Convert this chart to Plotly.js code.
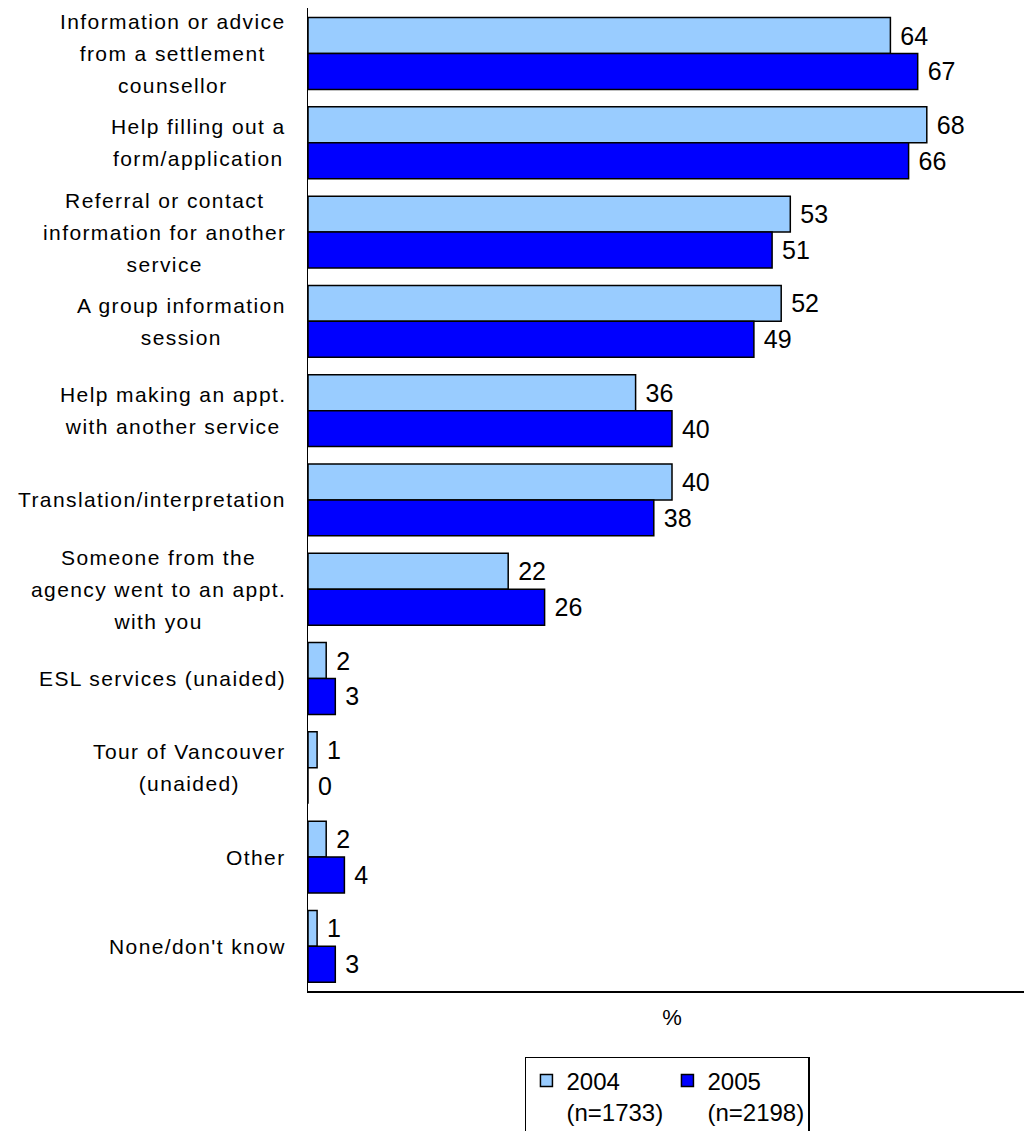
<!DOCTYPE html>
<html>
<head>
<meta charset="utf-8">
<script src="https://cdn.plot.ly/plotly-3.0.1.min.js"></script>
<style>
  html, body { margin: 0; padding: 0; overflow: hidden; background: #fff; }
  #chart { width: 1036px; height: 1131px; }
</style>
</head>
<body>
<div id="chart"></div>
<script>
const categories = [
  "Information or advice<br>from a settlement<br>counsellor",
  "Help filling out a<br>form/application",
  "Referral or contact<br>information for another<br>service",
  "A group information<br>session",
  "Help making an appt.<br>with another service",
  "Translation/interpretation",
  "Someone from the<br>agency went to an appt.<br>with you",
  "ESL services (unaided)",
  "Tour of Vancouver<br>(unaided)",
  "Other",
  "None/don't know"
];
const values2004 = [64, 68, 53, 52, 36, 40, 22, 2, 1, 2, 1];
const values2005 = [67, 66, 51, 49, 40, 38, 26, 3, 0, 4, 3];
const seriesNames = ["2004<br>(n=1733)", "2005<br>(n=2198)"];
const axisTitle = "%";

const FONT = "Liberation Sans, Arial, sans-serif";

function barTrace(name, vals, color) {
  return {
    type: "bar",
    orientation: "h",
    name: name,
    y: categories,
    x: vals,
    marker: { color: color, line: { color: "#000", width: 1.5 } },
    texttemplate: "\u00a0%{x}",
    textposition: "outside",
    textfont: { family: FONT, size: 25, color: "#000" },
    constraintext: "none",
    cliponaxis: false,
    hoverinfo: "skip"
  };
}

const data = [
  barTrace(seriesNames[0], values2004, "#99CCFF"),
  barTrace(seriesNames[1], values2005, "#0000FF")
];

const annotations = categories.map(c => ({
  xref: "paper", yref: "y",
  x: 0, y: c,
  xanchor: "right", yanchor: "middle",
  xshift: -20,
  align: "center",
  showarrow: false,
  font: { family: FONT, size: 24.6, color: "#000" },
  text: c.split("<br>").map(l => '<span style="font-size:21px;letter-spacing:1.4px">' + l + '</span>').join("<br>")
}));

const layout = {
  width: 1036,
  height: 1131,
  margin: { l: 308, r: 0, t: 8, b: 140, pad: 0, autoexpand: false },
  paper_bgcolor: "#fff",
  plot_bgcolor: "#fff",
  font: { family: FONT, color: "#000" },
  barmode: "group",
  bargap: 0.195,
  bargroupgap: 0,
  showlegend: true,
  xaxis: {
    range: [0, 80],
    showgrid: false,
    zeroline: false,
    showline: true,
    linecolor: "#000",
    linewidth: 1.5,
    ticks: "",
    showticklabels: false,
    fixedrange: true,
    automargin: false,
    title: { text: axisTitle, font: { family: FONT, size: 22, color: "#000" }, standoff: 18 }
  },
  yaxis: {
    autorange: "reversed",
    showgrid: false,
    zeroline: false,
    showline: true,
    linecolor: "#000",
    linewidth: 1.5,
    ticks: "",
    showticklabels: false,
    fixedrange: true,
    automargin: false
  },
  legend: {
    orientation: "h",
    x: 0.298,
    xanchor: "left",
    y: -0.0671,
    yanchor: "top",
    bordercolor: "#000",
    borderwidth: 1.5,
    bgcolor: "#fff",
    valign: "top",
    traceorder: "normal",
    entrywidth: 96,
    entrywidthmode: "pixels",
    font: { family: FONT, size: 24, color: "#000" }
  },
  annotations: annotations
};

Plotly.newPlot("chart", data, layout, { staticPlot: true, displayModeBar: false });
</script>
</body>
</html>
